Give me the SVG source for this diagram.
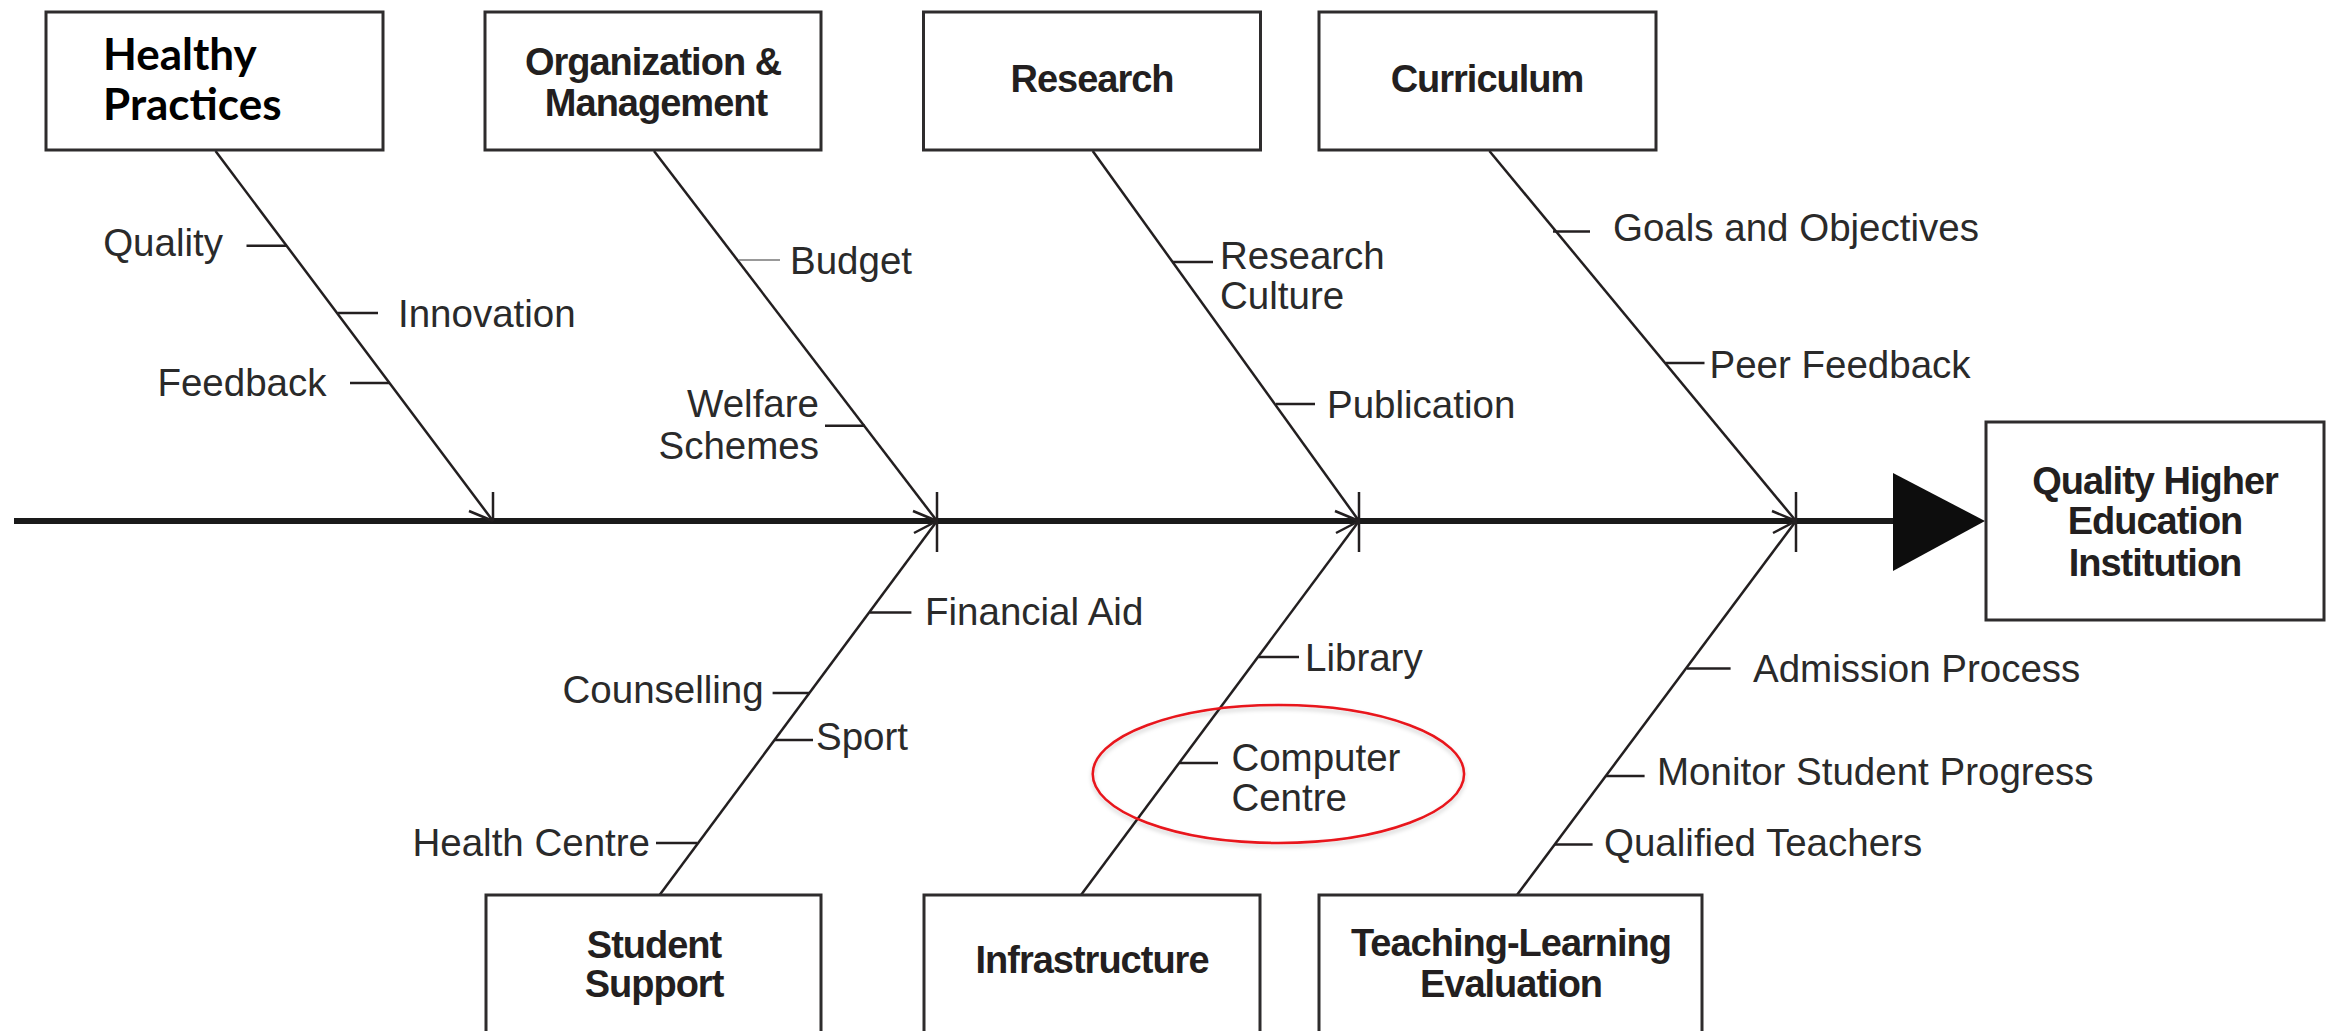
<svg xmlns="http://www.w3.org/2000/svg" xmlns:xlink="http://www.w3.org/1999/xlink" width="2338" height="1031" viewBox="0 0 2338 1031">
<style>
.box{fill:#fff;stroke:#2e2c2d;stroke-width:3}
.bt{font-family:"Liberation Sans",Arial,sans-serif;font-weight:bold;font-size:38px;letter-spacing:-1px;fill:#231f20;text-anchor:middle}
.hp{font-family:Lato,"Liberation Sans",sans-serif;font-weight:bold;font-size:44px;fill:#000}
.lb{font-family:"Liberation Sans",Arial,sans-serif;font-size:38.5px;fill:#2a2a2a}
.end{text-anchor:end}
.sp{stroke:#231f20;stroke-width:2.5;fill:none}
.tk{stroke:#231f20;stroke-width:2.5;fill:none}
.main{stroke:#1a1a1a;stroke-width:6;fill:none}
</style>
<defs>
<path id="barbTop" d="M0,0 V-29 M0,0 L-24,-10" class="sp"/>
<path id="barbBot" d="M0,0 V31 M0,0 L-23,12" class="sp"/>
<filter id="sh" x="-10%" y="-10%" width="120%" height="130%">
<feDropShadow dx="0" dy="3" stdDeviation="2" flood-color="#000" flood-opacity="0.2"/>
</filter>
</defs>
<rect width="2338" height="1031" fill="#fff"/>

<g id="connectors">
<line class="main" x1="14" y1="521" x2="1895" y2="521"/>
<polygon points="1893,473 1985,521 1893,571" fill="#0d0d0d"/>
<line class="sp" x1="215.5" y1="151" x2="493" y2="521"/>
<line class="sp" x1="654" y1="151" x2="937" y2="521"/>
<line class="sp" x1="1092.7" y1="151" x2="1359" y2="521"/>
<line class="sp" x1="1489.4" y1="151" x2="1796" y2="521"/>
<line class="sp" x1="659.6" y1="895" x2="937" y2="521"/>
<line class="sp" x1="1081" y1="895" x2="1359" y2="521"/>
<line class="sp" x1="1517" y1="895" x2="1796" y2="521"/>
<use xlink:href="#barbTop" x="493" y="521"/>
<use xlink:href="#barbTop" x="937" y="521"/>
<use xlink:href="#barbTop" x="1359" y="521"/>
<use xlink:href="#barbTop" x="1796" y="521"/>
<use xlink:href="#barbBot" x="937" y="521"/>
<use xlink:href="#barbBot" x="1359" y="521"/>
<use xlink:href="#barbBot" x="1796" y="521"/>
<line class="tk" x1="246.5" y1="245.7" x2="287" y2="245.7"/>
<line class="tk" x1="338" y1="313" x2="378" y2="313"/>
<line class="tk" x1="350" y1="383" x2="390" y2="383"/>
<line x1="739" y1="260" x2="780" y2="260" stroke="#777" stroke-width="1.6"/>
<line class="tk" x1="825" y1="425.7" x2="865" y2="425.7"/>
<line class="tk" x1="1172" y1="262" x2="1213" y2="262"/>
<line class="tk" x1="1276" y1="404" x2="1315" y2="404"/>
<line class="tk" x1="1553" y1="231.4" x2="1590" y2="231.4"/>
<line class="tk" x1="1666" y1="363" x2="1704.5" y2="363"/>
<line class="tk" x1="870" y1="612.6" x2="911.4" y2="612.6"/>
<line class="tk" x1="772.6" y1="693" x2="810" y2="693"/>
<line class="tk" x1="775" y1="740" x2="813" y2="740"/>
<line class="tk" x1="656" y1="843" x2="697.5" y2="843"/>
<line class="tk" x1="1258.5" y1="657" x2="1299" y2="657"/>
<line class="tk" x1="1179.5" y1="763" x2="1218" y2="763"/>
<line class="tk" x1="1687" y1="668.6" x2="1730.6" y2="668.6"/>
<line class="tk" x1="1606" y1="776" x2="1644.6" y2="776"/>
<line class="tk" x1="1555" y1="844.5" x2="1592.6" y2="844.5"/>
</g>

<g id="healthy-practices">
<rect class="box" x="46" y="12" width="337" height="138"/>
<text class="hp" x="103" y="70">Healthy</text>
<text class="hp" x="103" y="120">Practices</text>
</g>
<g id="organization-management">
<rect class="box" x="485" y="12" width="336" height="138"/>
<text class="bt" x="653" y="74.7">Organization &amp;</text>
<text class="bt" x="656" y="115.5">Management</text>
</g>
<g id="research">
<rect class="box" x="923.5" y="12" width="337" height="138"/>
<text class="bt" x="1092" y="91.8">Research</text>
</g>
<g id="curriculum">
<rect class="box" x="1319" y="12" width="337" height="138"/>
<text class="bt" x="1487" y="91.8">Curriculum</text>
</g>
<g id="student-support">
<rect class="box" x="486" y="895" width="335" height="150"/>
<text class="bt" x="654" y="957.5">Student</text>
<text class="bt" x="654" y="997">Support</text>
</g>
<g id="infrastructure">
<rect class="box" x="924" y="895" width="336" height="150"/>
<text class="bt" x="1092" y="972.6">Infrastructure</text>
</g>
<g id="teaching-learning-evaluation">
<rect class="box" x="1319" y="895" width="383" height="150"/>
<text class="bt" x="1511" y="956">Teaching-Learning</text>
<text class="bt" x="1511" y="997">Evaluation</text>
</g>
<g id="quality-higher-education-institution">
<rect class="box" x="1986" y="422" width="338" height="198"/>
<text class="bt" x="2155" y="494">Quality Higher</text>
<text class="bt" x="2155" y="534">Education</text>
<text class="bt" x="2155" y="575.5">Institution</text>
</g>

<g id="labels">
<text class="lb end" x="223" y="256">Quality</text>
<text class="lb" x="398" y="326.5">Innovation</text>
<text class="lb end" x="326.5" y="396">Feedback</text>
<text class="lb" x="790" y="274">Budget</text>
<text class="lb end" x="819" y="417">Welfare</text>
<text class="lb end" x="819" y="459">Schemes</text>
<text class="lb" x="1220" y="268.6">Research</text>
<text class="lb" x="1220" y="309">Culture</text>
<text class="lb" x="1327" y="418.4">Publication</text>
<text class="lb" x="1613" y="240.8">Goals and Objectives</text>
<text class="lb" x="1709.5" y="377.6">Peer Feedback</text>
<text class="lb" x="925" y="625">Financial Aid</text>
<text class="lb end" x="763.7" y="703">Counselling</text>
<text class="lb" x="816" y="750">Sport</text>
<text class="lb end" x="650" y="856">Health Centre</text>
<text class="lb" x="1305" y="670.6">Library</text>
<text class="lb" x="1231.4" y="770.6">Computer</text>
<text class="lb" x="1231.4" y="811.4">Centre</text>
<text class="lb" x="1753" y="681.6">Admission Process</text>
<text class="lb" x="1657" y="785">Monitor Student Progress</text>
<text class="lb" x="1604" y="856">Qualified Teachers</text>
</g>

<g id="highlight">
<ellipse cx="1278.4" cy="774" rx="185.7" ry="69" fill="none" stroke="#e8141b" stroke-width="2.5" filter="url(#sh)"/>
</g>
</svg>
